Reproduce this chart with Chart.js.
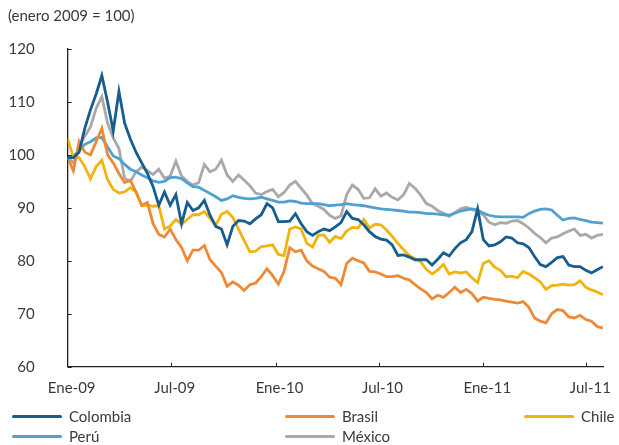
<!DOCTYPE html>
<html><head><meta charset="utf-8">
<script src="https://cdn.jsdelivr.net/npm/chart.js@4.4.0/dist/chart.umd.min.js"></script>
<style>
html,body{margin:0;padding:0;background:#fff;}
#wrap{position:relative;width:619px;height:445px;font-family:Lato,"Open Sans",sans-serif;color:#3a3a3a;}
canvas{position:absolute;left:0;top:0;}
.t{position:absolute;font-size:15px;line-height:18px;white-space:nowrap;}
.sw{position:absolute;height:3px;width:50px;border-radius:1.5px;}
</style></head><body>
<div id="wrap">
<canvas id="c" width="619" height="445"></canvas>
<div class="t" style="left:8px;top:6px">(enero 2009 = 100)</div>
<div id="legend"></div>
</div>
<script>
// days since 1 Jan 2009
const days = [0,10,20,30,40,50,60,70,80,90,100,110,120,130,140,150,160,170,180,190,200,210,220,230,240,250,260,270,280,290,300,310,320,330,340,350,360,370,380,390,400,410,420,430,440,450,460,470,480,490,500,510,520,530,540,550,560,570,580,590,600,610,620,630,640,650,660,670,680,690,700,710,720,730,740,750,760,770,780,790,800,810,820,830,840,850,860,870,880,890,900,910,920,930,940];
const tickDays = [0,181,365,546,730,911];
const tickLabels = ['Ene-09','Jul-09','Ene-10','Jul-10','Ene-11','Jul-11'];
const yTicks = [60,70,80,90,100,110,120];

const colombia = [99.5,99.5,100.5,105,108.5,111.5,115,110,104.5,112,106,103,100.5,98.5,96.5,94,90.5,93,90.5,92.5,87,91,89.5,90,91.4,88.6,86.5,86,83,86.5,87.6,87.5,87,87.9,88.7,90.8,90,87.4,87.4,87.5,88.9,87,85.5,84.8,85.5,86,85.7,86.4,87.2,89.3,88,87.8,86.8,85.5,84.6,84.1,83.9,83,81,81.1,80.7,80.2,80.2,80.2,79.2,80.3,81.5,80.9,82.3,83.4,84,85.5,89.8,84,82.8,83,83.6,84.5,84.3,83.4,83.2,82.5,80.8,79.3,78.9,79.7,80.6,80.8,79.2,78.9,78.9,78.2,77.7,78.3,78.9];
const brasil = [99.5,97,102.5,100.5,100,102.5,105,100,98.5,96.5,94.8,95.2,93,90.5,91,87,85,84.5,86,84,82.5,80,82,82,82.9,80.2,79,77.8,75.2,76,75.4,74.4,75.5,75.8,77,78.5,77.2,75.6,78,82.5,81.7,82,80,79,78.5,78,76.9,76.7,75.5,79.5,80.5,80,79.6,78,77.9,77.5,77,77,77.2,76.7,76.4,75.5,74.7,74,72.8,73.5,73.1,74,75,74,74.6,73.8,72.4,73.1,72.9,72.7,72.6,72.4,72.2,72,72.3,71.2,69.2,68.6,68.3,70,70.8,70.6,69.4,69.2,69.7,68.9,68.6,67.6,67.3];
const chile = [103,99.5,99.5,97.8,95.5,97.8,99,95.3,93.5,92.8,93,93.8,93,90.4,90.5,90.3,90.4,86,86.6,87.8,86.9,87.8,88.7,88.7,89.3,88,86.7,88.8,89.3,88.2,86,83.8,81.7,81.8,82.7,82.8,83,81.2,81,86,86.4,86,83.3,82.6,84.8,84.9,83.5,84.6,84.2,85.6,86.3,86.2,87.8,86.2,86.9,86.8,85.8,84.6,83.3,82.1,81,80.4,79.8,78.4,77.5,78.3,79.3,77.5,77.9,77.7,77.9,76.8,75.9,79.5,80,78.8,78.2,77,77.1,76.8,78,77.5,76.8,76,74.6,75.3,75.4,75.6,75.4,75.5,76.2,75,74.5,74.1,73.6];
const peru = [99.3,99.8,100.8,102,102.5,103.2,103.3,101.5,99.8,99.3,98.2,97.3,96.8,96.2,95.7,95.1,94.8,95,95.7,95.8,95.5,94.7,94,93.9,93.3,92.7,92.1,91.4,91.7,92.3,92,91.8,91.7,91.8,92,91.7,91.4,91.1,91.1,91.3,91.2,90.9,90.8,90.8,90.8,90.6,90.4,90.5,90.6,90.8,90.6,90.5,90.4,90.2,90,89.8,89.7,89.6,89.5,89.4,89.2,89.2,89.1,88.9,88.9,88.8,88.7,88.6,89,89.4,89.6,89.8,89.6,89,88.6,88.4,88.3,88.3,88.3,88.3,88.2,88.9,89.4,89.7,89.8,89.6,88.6,87.7,88,88.1,87.8,87.6,87.3,87.2,87.1];
const mexico = [99.5,98.5,101.7,103.5,105.3,108.8,111,106,103.2,101.2,95.6,95,96.8,97.7,97,96.3,97.3,95.6,96,98.8,96,95,94.3,94.8,98.2,96.8,97.3,99,96.2,95,96.2,95.2,94.2,92.8,92.5,93.1,93.5,92.1,92.9,94.3,95,93.7,92.4,90.8,90.3,89.7,88.6,88,88.5,92.5,94.3,93.5,91.8,91.9,93.6,92.2,92.8,92,91.5,92.5,94.6,93.7,92.4,90.8,90.3,89.5,89,88.4,89.1,89.8,90.1,89.7,89.3,88.7,87.3,86.8,87.2,87.1,87.5,87.6,87,86.2,85.2,84.4,83.4,84.3,84.5,85.1,85.6,86,84.8,85,84.3,84.8,85];

const seriesNames = ['Colombia','Brasil','Chile','Perú','México'];
const seriesValues = [colombia, brasil, chile, peru, mexico];
const seriesColors = ['#175d8d','#ee8a37','#f0b40c','#4fa2d0','#a9a9ab'];

// HTML legend
const legendPos = [[12,69,416],[285,342,416],[524,581,416],[12,69,436],[285,342,436]];
const leg = document.getElementById('legend');
seriesNames.forEach((n,i)=>{
  const [sx,tx,cy] = legendPos[i];
  const s = document.createElement('div'); s.className='sw';
  s.style.left=sx+'px'; s.style.top=(cy-1.5)+'px'; s.style.background=seriesColors[i];
  leg.appendChild(s);
  const t = document.createElement('div'); t.className='t';
  t.style.left=tx+'px'; t.style.top=(cy-9.5)+'px'; t.textContent=n;
  leg.appendChild(t);
});

const innerTicks = {
  id:'innerTicks',
  afterDraw(chart){
    const ctx=chart.ctx, xs=chart.scales.x, ys=chart.scales.y, a=chart.chartArea;
    ctx.save(); ctx.strokeStyle='#222'; ctx.lineWidth=1;
    tickDays.forEach(d=>{ if(d===0) return; const px=Math.round(xs.getPixelForValue(d))+0.5;
      ctx.beginPath(); ctx.moveTo(px,a.bottom); ctx.lineTo(px,a.bottom-4); ctx.stroke();});
    yTicks.forEach(v=>{ const py=Math.round(ys.getPixelForValue(v))+0.5;
      ctx.beginPath(); ctx.moveTo(a.left,py); ctx.lineTo(a.left+4,py); ctx.stroke();});
    ctx.restore();
  }
};

const font = {family:'Lato, "Open Sans", sans-serif', size:15};
new Chart(document.getElementById('c'), {
  type:'line',
  data:{
    datasets: seriesNames.map((n,i)=>({
      label:n,
      data: days.map((d,j)=>({x:d,y:seriesValues[i][j]})),
      borderColor: seriesColors[i],
      backgroundColor: seriesColors[i],
      borderWidth: 2.8,
      pointRadius: 0,
      tension: 0,
      fill:false
    }))
  },
  options:{
    responsive:false,
    animation:false,
    layout:{padding:{top:49,right:4,left:0,bottom:0}},
    plugins:{legend:{display:false},tooltip:{enabled:false}},
    scales:{
      x:{
        type:'linear', min:0, max:941,
        afterBuildTicks:s=>{ s.ticks = tickDays.map(v=>({value:v})); },
        afterFit:s=>{ s.height = 78.3; },
        grid:{display:false, drawTicks:false},
        border:{display:true,color:'#222',width:1.3},
        ticks:{autoSkip:false,maxRotation:0,labelOffset:4,padding:12,color:'#3a3a3a',font,
          callback:v=>tickLabels[tickDays.indexOf(v)]}
      },
      y:{
        min:60,max:120,
        afterBuildTicks:s=>{ s.ticks = yTicks.map(v=>({value:v})); },
        afterFit:s=>{ s.width = 67.7; },
        grid:{display:false, drawTicks:false},
        border:{display:true,color:'#222',width:1.3},
        ticks:{padding:33,color:'#3a3a3a',font,callback:v=>String(v)}
      }
    }
  },
  plugins:[innerTicks]
});
</script>
</body></html>
